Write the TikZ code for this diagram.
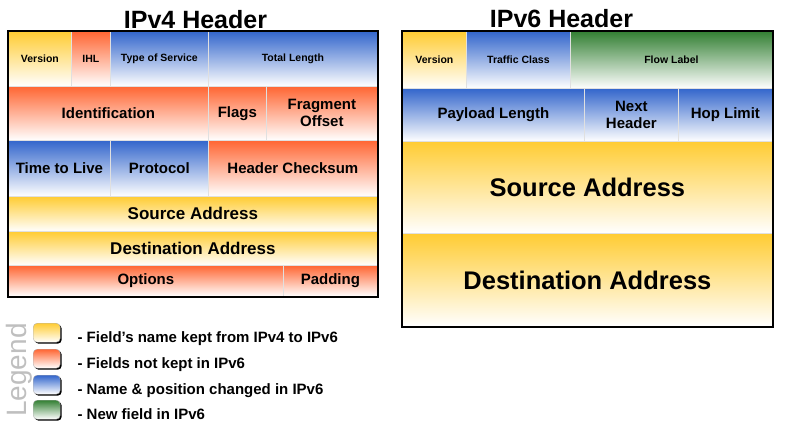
\documentclass[tikz,border=0pt]{standalone}
\usepackage{fontspec}
\setmainfont{Liberation Sans}
\definecolor{yellowT}{rgb}{1,0.8,0.2}
\definecolor{redT}{rgb}{1,0.4,0.2}
\definecolor{blueT}{rgb}{0.2,0.4,0.8}
\definecolor{greenT}{rgb}{0.2,0.5,0.2}
\definecolor{legendT}{rgb}{0.75,0.75,0.75}
\usetikzlibrary{shadows}

\begin{document}
\begin{tikzpicture}[x=1pt,y=-1pt,
    field/.style={rectangle,anchor=north west,inner sep=0pt,align=center,draw=white!88!black,line width=0.8pt,bottom color=white},
    kept/.style={field,top color=yellowT},
    dropped/.style={field,top color=redT},
    changed/.style={field,top color=blueT},
    newField/.style={field,top color=greenT},
    rowA/.style={font=\fontsize{10.5}{12}\selectfont\bfseries},
    rowB/.style={font=\fontsize{15}{17}\selectfont\bfseries},
    rowC/.style={font=\fontsize{17}{19}\selectfont\bfseries},
    rowD/.style={font=\fontsize{25.5}{28}\selectfont\bfseries},
    frame/.style={draw=black,line width=2pt},
    title/.style={anchor=base,font=\fontsize{25}{30}\selectfont\bfseries},
    swatch/.style={rectangle,anchor=north west,rounded corners=4pt,minimum width=27pt,minimum height=19pt,inner sep=0pt,bottom color=white,draw=gray!60,line width=0.4pt,
        drop shadow={opacity=1,fill=black,shadow xshift=1.5pt,shadow yshift=-1.5pt}},
    legendText/.style={anchor=base west,font=\fontsize{15}{18}\selectfont\bfseries},
]
	\useasboundingbox (0,0) rectangle (790,428);

	% IPv4
	\node[title](v4title) at (195.5,29){IPv4 Header};

	\node[kept,rowA,minimum width=63pt,minimum height=55pt](ver4) at (8,31){Version};
	\node[dropped,rowA,minimum width=39pt,minimum height=55pt](ihl) at (71,31){IHL};
	\node[changed,rowA,minimum width=98pt,minimum height=55pt](tos) at (110,31){Type of Service};
	\node[changed,rowA,minimum width=169pt,minimum height=55pt](tlen) at (208,31){Total Length};

	\node[dropped,rowB,minimum width=200pt,minimum height=54pt](ident) at (8,86){Identification};
	\node[dropped,rowB,minimum width=58pt,minimum height=54pt](flags) at (208,86){Flags};
	\node[dropped,rowB,minimum width=111pt,minimum height=54pt](frag) at (266,86){Fragment\\Offset};

	\node[changed,rowB,minimum width=102pt,minimum height=56pt](ttl) at (8,140){Time to Live};
	\node[changed,rowB,minimum width=98pt,minimum height=56pt](proto) at (110,140){Protocol};
	\node[dropped,rowB,minimum width=169pt,minimum height=56pt](chk) at (208,140){Header Checksum};

	\node[kept,rowC,minimum width=369pt,minimum height=35pt](src4) at (8,196){Source Address};
	\node[kept,rowC,minimum width=369pt,minimum height=34pt](dst4) at (8,231){Destination Address};

	\node[dropped,rowB,minimum width=275pt,minimum height=31pt](opt) at (8,265){Options};
	\node[dropped,rowB,minimum width=94pt,minimum height=31pt](pad) at (283,265){Padding};

	\draw[frame](ver4.north west) rectangle (pad.south east);

	% IPv6
	\node[title](v6title) at (561.5,27.5){IPv6 Header};

	\node[kept,rowA,minimum width=64pt,minimum height=57pt](ver6) at (402,31){Version};
	\node[changed,rowA,minimum width=104pt,minimum height=57pt](tclass) at (466,31){Traffic Class};
	\node[newField,rowA,minimum width=202pt,minimum height=57pt](flow) at (570,31){Flow Label};

	\node[changed,rowB,minimum width=182pt,minimum height=53pt](plen) at (402,88){Payload Length};
	\node[changed,rowB,minimum width=94pt,minimum height=53pt](nxt) at (584,88){Next\\Header};
	\node[changed,rowB,minimum width=94pt,minimum height=53pt](hop) at (678,88){Hop Limit};

	\node[kept,rowD,minimum width=370pt,minimum height=92pt](src6) at (402,141){Source Address};
	\node[kept,rowD,minimum width=370pt,minimum height=93pt](dst6) at (402,233){Destination Address};

	\draw[frame](ver6.north west) rectangle (dst6.south east);

	% legend
	\node[rotate=90,anchor=base,text=legendT,font=\fontsize{28}{30}\selectfont](legendLabel) at (27,370){Legend};

	\node[swatch,top color=yellowT](keyKept) at (33,323){};
	\node[swatch,top color=redT](keyDropped) at (33,349){};
	\node[swatch,top color=blueT](keyChanged) at (33,375){};
	\node[swatch,top color=greenT](keyNew) at (33,400){};

	\node[legendText](txtKept) at (74,342){- Field's name kept from IPv4 to IPv6};
	\node[legendText](txtDropped) at (74,368){- Fields not kept in IPv6};
	\node[legendText](txtChanged) at (74,394){- Name \& position changed in IPv6};
	\node[legendText](txtNew) at (74,419){- New field in IPv6};

\end{tikzpicture}
\end{document}
